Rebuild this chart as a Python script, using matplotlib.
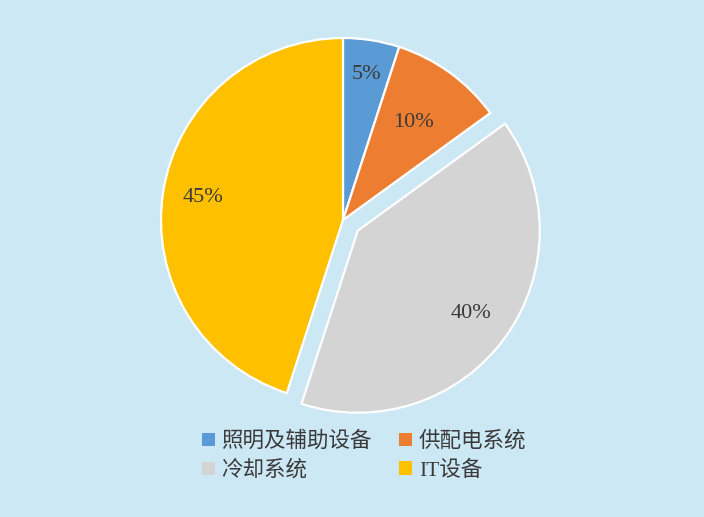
import numpy as np
import matplotlib
matplotlib.use("Agg")
import matplotlib.pyplot as plt
from matplotlib.patches import Patch

plt.rcParams['font.family'] = ['Liberation Serif', 'Noto Sans CJK SC', 'DejaVu Sans']

categories = ['照明及辅助设备', '供配电系统', '冷却系统', 'IT设备']
shares = [5, 10, 40, 45]
colors = ['#5B9BD5', '#ED7D31', '#D4D4D4', '#FFC000']
explode = [0, 0, 0.1, 0]
label_r = [0.81, 0.66, 0.77, 0.78]

W, H = 704, 517
fig = plt.figure(figsize=(W / 100, H / 100), dpi=100)
fig.patch.set_facecolor('#CDE8F5')

# pie centre in pixels and radius
cx, cy, rad = 343, 220, 182
ax = fig.add_axes([0, 0, 1, 1])
wedges, _ = ax.pie(shares, colors=colors, startangle=90, counterclock=False,
                   explode=explode,
                   wedgeprops=dict(edgecolor='white', linewidth=1.6))
ax.set_xlim(-cx / rad, (W - cx) / rad)
ax.set_ylim(-(H - cy) / rad, cy / rad)
ax.set_aspect('auto')
ax.axis('off')

for w, v, r in zip(wedges, shares, label_r):
    mid = np.deg2rad((w.theta1 + w.theta2) / 2)
    x0, y0 = w.center
    ax.text(x0 + r * np.cos(mid), y0 + r * np.sin(mid), f'{v}%',
            ha='center', va='center', fontsize=16, color='#3A3A3A')

# legend goes row by row in the reference
order = [0, 2, 1, 3]
handles = [Patch(facecolor=colors[i], edgecolor='none') for i in order]
labels = [categories[i] for i in order]
fig.legend(handles, labels, loc='upper center', bbox_to_anchor=(0.517, 1 - 412 / H),
           ncol=2, frameon=False, fontsize=15.5, handlelength=0.6, handleheight=0.6,
           handletextpad=0.3, columnspacing=1.3, labelspacing=0.4,
           labelcolor='#3A3A3A')

fig.savefig('out.png', dpi=100, facecolor=fig.get_facecolor())
